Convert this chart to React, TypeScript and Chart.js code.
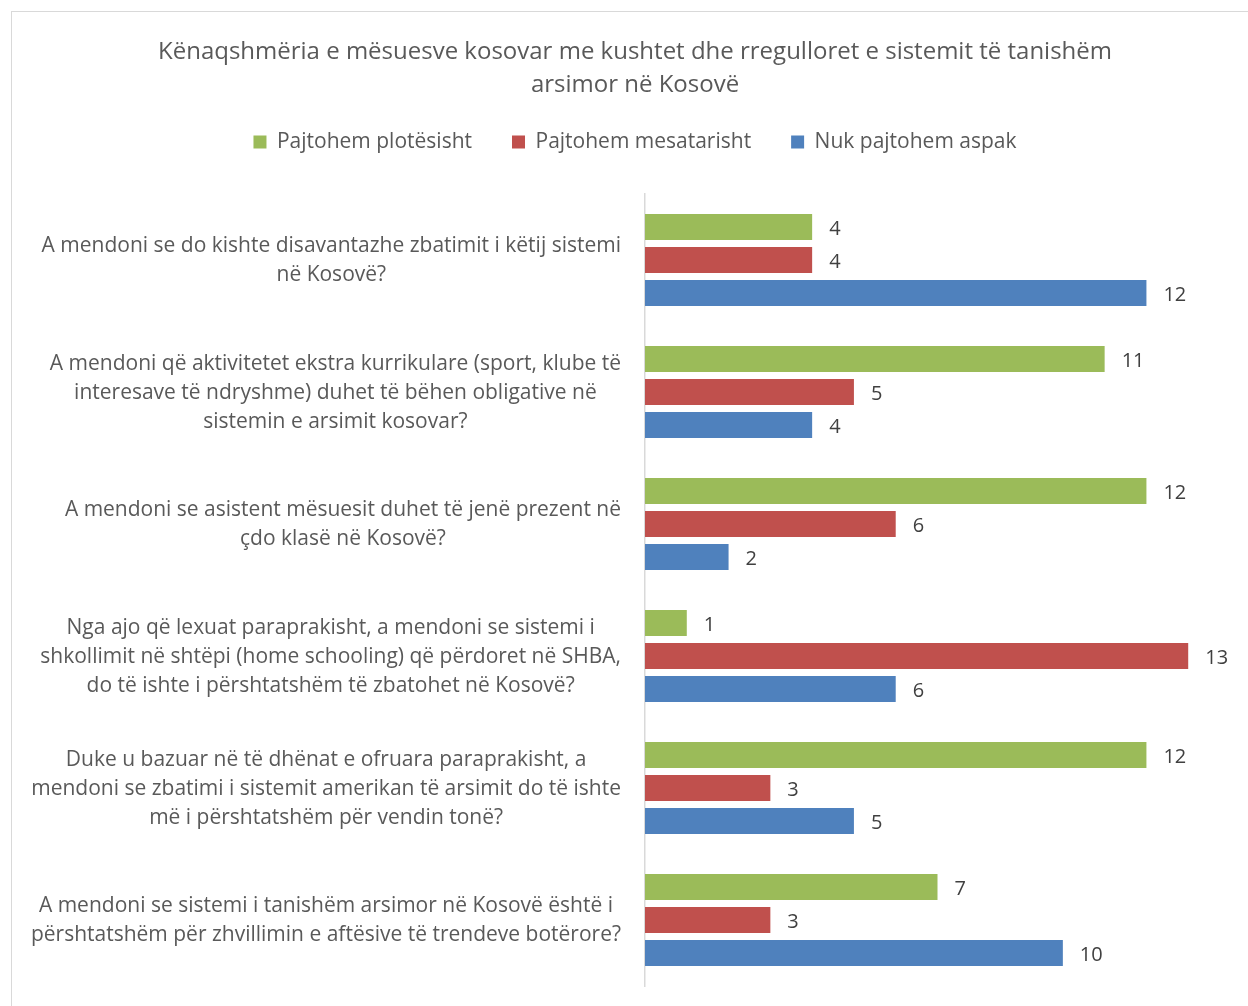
import React, { useEffect, useRef } from "react";
import { Chart, registerables } from "chart.js";

Chart.register(...registerables);

const titleLines = [
  "Kënaqshmëria e mësuesve kosovar me kushtet dhe rregulloret e sistemit të tanishëm",
  "arsimor në Kosovë",
];

const categories: string[][] = [
  ["A mendoni se do kishte disavantazhe zbatimit i këtij sistemi", "në Kosovë?"],
  [
    "A mendoni që aktivitetet ekstra kurrikulare (sport, klube të",
    "interesave të ndryshme) duhet të bëhen obligative në",
    "sistemin e arsimit kosovar?",
  ],
  ["A mendoni se asistent mësuesit duhet të jenë prezent në", "çdo klasë në Kosovë?"],
  [
    "Nga ajo që lexuat paraprakisht, a mendoni se sistemi i",
    "shkollimit në shtëpi (home schooling) që përdoret në SHBA,",
    "do të ishte i përshtatshëm të zbatohet në Kosovë?",
  ],
  [
    "Duke u bazuar në të dhënat e ofruara paraprakisht, a",
    "mendoni se zbatimi i sistemit amerikan të arsimit do të ishte",
    "më i përshtatshëm për vendin tonë?",
  ],
  [
    "A mendoni se sistemi i tanishëm arsimor në Kosovë është i",
    "përshtatshëm për zhvillimin e aftësive të trendeve botërore?",
  ],
];

const seriesNames = ["Pajtohem plotësisht", "Pajtohem mesatarisht", "Nuk pajtohem aspak"];
const plotesisht = [4, 11, 12, 1, 12, 7];
const mesatarisht = [4, 5, 6, 13, 3, 3];
const aspak = [12, 4, 2, 6, 5, 10];
const seriesColors = ["#9BBB59", "#C0504D", "#4F81BD"];

const FONT = "'Open Sans', 'DejaVu Sans', sans-serif";

const categoryLabelPlugin = {
  id: "categoryLabels",
  afterDraw(chart: any) {
    const ctx = chart.ctx;
    const y = chart.scales.y;
    ctx.save();
    ctx.font = `21px ${FONT}`;
    ctx.fillStyle = "#595959";
    ctx.textAlign = "center";
    ctx.textBaseline = "middle";
    const rightEdge = chart.chartArea.left - 24;
    const lineH = 29;
    categories.forEach((lines, i) => {
      const cy = y.getPixelForValue(i) + 1;
      const widest = Math.max(...lines.map((l) => ctx.measureText(l).width));
      const cx = rightEdge - widest / 2;
      lines.forEach((l, j) => {
        ctx.fillText(l, cx, cy + (j - (lines.length - 1) / 2) * lineH);
      });
    });
    ctx.restore();
  },
};

const valueLabelPlugin = {
  id: "valueLabels",
  afterDatasetsDraw(chart: any) {
    const ctx = chart.ctx;
    ctx.save();
    ctx.font = `20px ${FONT}`;
    ctx.fillStyle = "#404040";
    ctx.textAlign = "left";
    ctx.textBaseline = "middle";
    chart.data.datasets.forEach((ds: any, di: number) => {
      const meta = chart.getDatasetMeta(di);
      meta.data.forEach((bar: any, i: number) => {
        ctx.fillText(String(ds.data[i]), bar.x + 17, bar.y + 2);
      });
    });
    ctx.restore();
  },
};

export default function App() {
  const ref = useRef<HTMLCanvasElement | null>(null);
  useEffect(() => {
    if (!ref.current) return;
    const chart = new Chart(ref.current, {
      type: "bar",
      data: {
        labels: categories.map((c) => c.join(" ")),
        datasets: [
          { label: seriesNames[0], data: plotesisht, backgroundColor: seriesColors[0] },
          { label: seriesNames[1], data: mesatarisht, backgroundColor: seriesColors[1] },
          { label: seriesNames[2], data: aspak, backgroundColor: seriesColors[2] },
        ],
      },
      options: {
        indexAxis: "y",
        animation: false,
        responsive: false,
        datasets: { bar: { categoryPercentage: 0.75, barPercentage: 0.788 } },
        layout: { padding: { top: 0, left: 40, right: 18, bottom: 20 } },
        scales: {
          x: {
            type: "linear",
            position: "top",
            min: 0,
            max: 14,
            grid: { display: false },
            border: { display: false },
            ticks: { display: false },
            afterFit: (s: any) => {
              s.height = 31.5;
            },
          },
          y: {
            type: "category",
            grid: { display: false },
            border: { display: true, color: "#D9D9D9", width: 1.5 },
            ticks: { display: false },
            afterFit: (s: any) => {
              s.width = 605;
            },
          },
        },
        plugins: {
          tooltip: { enabled: false },
          title: {
            display: true,
            text: titleLines,
            color: "#595959",
            font: { family: FONT, size: 24, weight: "normal", lineHeight: 1.375 },
            padding: { top: 35.5, bottom: -10 },
          },
          legend: {
            display: true,
            position: "top",
            labels: {
              boxWidth: 13,
              boxHeight: 13,
              padding: 40,
              color: "#595959",
              font: { family: FONT, size: 21 },
            },
          },
        },
      },
      plugins: [categoryLabelPlugin, valueLabelPlugin],
    } as any);
    return () => chart.destroy();
  }, []);

  return (
    <div style={{ position: "fixed", left: 0, top: 0, width: 1248, height: 1006, overflow: "hidden", background: "#fff" }}>
      <div
        style={{
          position: "absolute",
          left: 11,
          top: 11,
          width: 1300,
          height: 1100,
          border: "1px solid #D9D9D9",
        }}
      />
      <canvas ref={ref} width={1248} height={1006} style={{ position: "absolute", left: 0, top: 0 }} />
    </div>
  );
}
